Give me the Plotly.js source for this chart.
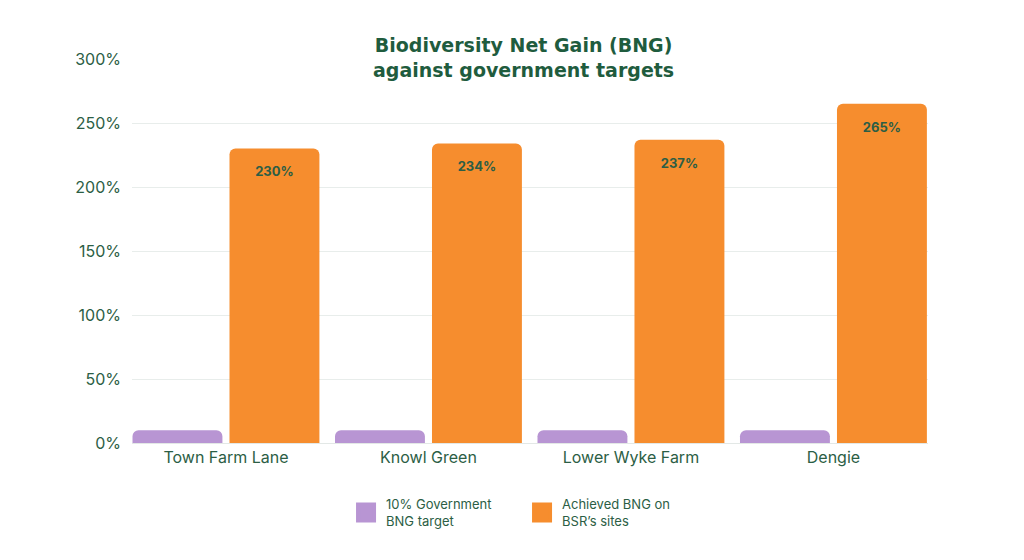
<!DOCTYPE html>
<html>
<head>
<meta charset="utf-8">
<script src="https://cdn.plot.ly/plotly-3.0.1.min.js"></script>
<style>html,body{margin:0;padding:0;background:#fff;}#chart{width:1024px;height:560px;}</style>
</head>
<body>
<div id="chart"></div>
<script>
const sites = ["Town Farm Lane", "Knowl Green", "Lower Wyke Farm", "Dengie"];
const targetValues = [10, 10, 10, 10];
const achievedValues = [230, 234, 237, 265];
const targetName = "10% Government<br>BNG target";
const achievedName = "Achieved BNG on<br>BSR’s sites";
const titleText = "Biodiversity Net Gain (BNG)<br>against government targets";
const yTicks = [0, 50, 100, 150, 200, 250, 300];

const green = "#2C5E45";
const titleGreen = "#1F5C3E";
const purple = "#B895D3";
const orange = "#F68D2E";

const traces = [
  {
    type: "bar", x: sites, y: targetValues, name: targetName,
    marker: {color: purple}, showlegend: false, hoverinfo: "skip"
  },
  {
    type: "bar", x: sites, y: achievedValues, name: achievedName,
    marker: {color: orange}, showlegend: false,
    text: achievedValues.map(v => "<span style='font-size:5px'>&nbsp;</span><br>" + v + "%"),
    textposition: "inside", insidetextanchor: "end",
    textfont: {family: "Inter, sans-serif", size: 13, color: green, weight: 700},
    textangle: 0
  },
  {
    type: "scatter", mode: "markers", x: [null], y: [null], name: targetName,
    marker: {symbol: "square", size: 16, color: purple, line: {width: 4, color: purple}}
  },
  {
    type: "scatter", mode: "markers", x: [null], y: [null], name: achievedName,
    marker: {symbol: "square", size: 16, color: orange, line: {width: 4, color: orange}}
  }
];

const layout = {
  width: 1024, height: 560,
  margin: {l: 132, r: 96, t: 59, b: 117, autoexpand: false},
  paper_bgcolor: "#fff", plot_bgcolor: "#fff",
  barmode: "group", bargap: 0.042, bargroupgap: 0.073, barcornerradius: 6,
  annotations: [{
    text: titleText, xref: "paper", yref: "paper", x: 0.492, xanchor: "center",
    y: 1 + (59 - 57) / 384, yanchor: "middle", showarrow: false,
    font: {family: "DejaVu Sans, sans-serif", size: 19, color: titleGreen, weight: 700}
  }],
  xaxis: {
    type: "category", range: [-0.464, 3.467],
    showgrid: false, zeroline: false, showline: false, ticks: "", ticklabelstandoff: 3,
    tickfont: {family: "Inter, sans-serif", size: 16, color: green}
  },
  yaxis: {
    range: [0, 300], tickvals: yTicks, ticktext: yTicks.map(v => v + "%"),
    showgrid: true, gridcolor: "#E8EDEB", gridwidth: 1,
    zeroline: true, zerolinecolor: "#E3E8E6", showline: false,
    ticks: "", ticklabelstandoff: 10,
    tickfont: {family: "Inter, sans-serif", size: 16, color: green}
  },
  legend: {
    orientation: "h", x: 0.49, xanchor: "center", y: -0.12, yanchor: "top",
    font: {family: "Inter, sans-serif", size: 13, color: green},
    entrywidth: 131, itemsizing: "trace", traceorder: "normal"
  },
  showlegend: true
};

Plotly.newPlot("chart", traces, layout, {displayModeBar: false, staticPlot: true});
</script>
</body>
</html>
